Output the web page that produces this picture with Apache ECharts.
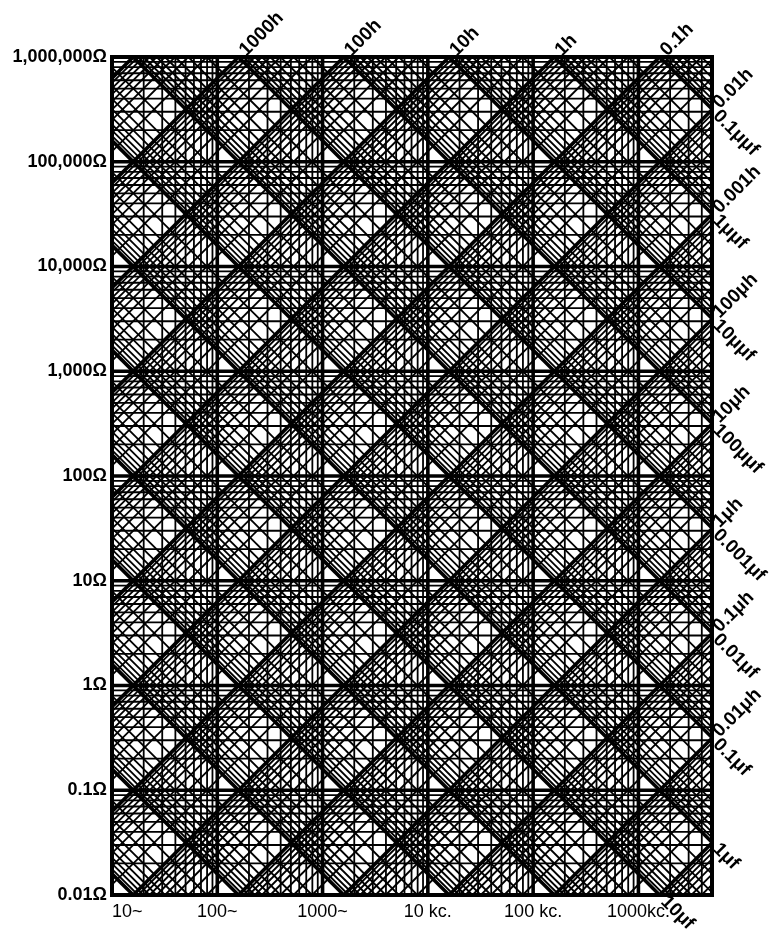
<!DOCTYPE html>
<html>
<head>
<meta charset="utf-8">
<script src="https://cdn.jsdelivr.net/npm/echarts@6/dist/echarts.min.js"></script>
<style>
  html, body { margin: 0; background: #fff; }
  #chart { width: 778px; height: 940px; }
</style>
</head>
<body>
<div id="chart"></div>
<script>
// axis ranges (cycles per second, ohms)
const freqMin = 10, freqMax = 5e6;
const ohmMin = 0.01, ohmMax = 1e6;

// tick labels
const freqTicks = [10, 100, 1000, 1e4, 1e5, 1e6];
const freqLabels = ['10~', '100~', '1000~', '10 kc.', '100 kc.', '1000kc.'];
const ohmTicks = [0.01, 0.1, 1, 10, 100, 1000, 1e4, 1e5, 1e6];
const ohmLabels = ['0.01Ω', '0.1Ω', '1Ω', '10Ω', '100Ω', '1,000Ω', '10,000Ω', '100,000Ω', '1,000,000Ω'];

// subdivisions of each decade
const steps = [1, 2, 3, 4, 5, 6, 7, 8, 9];

// decades of inductance (henry) and capacitance (farad) drawn as diagonals
const henryDecades = [1e-10, 1e-9, 1e-8, 1e-7, 1e-6, 1e-5, 1e-4, 1e-3, 1e-2, 1e-1, 1, 10, 100, 1000, 1e4];
const faradDecades = [1e-14, 1e-13, 1e-12, 1e-11, 1e-10, 1e-9, 1e-8, 1e-7, 1e-6, 1e-5, 1e-4, 1e-3, 1e-2, 1e-1, 1];

// labelled lines
const topHenry = [[1000, '1000h'], [100, '100h'], [10, '10h'], [1, '1h'], [0.1, '0.1h']];
const sideHenry = [[0.01, '0.01h'], [0.001, '0.001h'], [1e-4, '100μh'], [1e-5, '10μh'], [1e-6, '1μh'], [1e-7, '0.1μh'], [1e-8, '0.01μh']];
const sideFarad = [[1e-13, '0.1μμf'], [1e-12, '1μμf'], [1e-11, '10μμf'], [1e-10, '100μμf'], [1e-9, '0.001μf'], [1e-8, '0.01μf'], [1e-7, '0.1μf'], [1e-6, '1μf']];
const bottomFarad = [[1e-5, '10μf']];

const TWO_PI = 2 * Math.PI;

// segment of X = 2πfL inside the box
function henrySeg(L) {
  const f1 = Math.max(freqMin, ohmMin / (TWO_PI * L));
  const f2 = Math.min(freqMax, ohmMax / (TWO_PI * L));
  if (f1 >= f2) return null;
  return [f1, TWO_PI * f1 * L, f2, TWO_PI * f2 * L];
}
// segment of X = 1/(2πfC) inside the box
function faradSeg(C) {
  const f1 = Math.max(freqMin, 1 / (TWO_PI * C * ohmMax));
  const f2 = Math.min(freqMax, 1 / (TWO_PI * C * ohmMin));
  if (f1 >= f2) return null;
  return [f1, 1 / (TWO_PI * f1 * C), f2, 1 / (TWO_PI * f2 * C)];
}

const gridSegs = [];
const diagSegs = [];
for (let d = freqMin; d < freqMax; d *= 10) {
  steps.forEach(s => {
    const f = d * s;
    if (f <= freqMax) gridSegs.push([f, ohmMin, f, ohmMax, s === 1 ? 1 : 0]);
  });
}
for (let d = ohmMin; d < ohmMax; d *= 10) {
  steps.forEach(s => gridSegs.push([freqMin, d * s, freqMax, d * s, s === 1 ? 1 : 0]));
}
henryDecades.forEach(d => steps.forEach(s => {
  const seg = henrySeg(d * s);
  if (seg) diagSegs.push(seg.concat(s === 1 ? 1 : 0));
}));
faradDecades.forEach(d => steps.forEach(s => {
  const seg = faradSeg(d * s);
  if (seg) diagSegs.push(seg.concat(s === 1 ? 1 : 0));
}));

// label anchors: where the line leaves the box, and which way the text runs
const labelItems = [];
topHenry.forEach(([L, t]) => labelItems.push({ f: ohmMax / (TWO_PI * L), x: ohmMax, up: true, text: t }));
sideHenry.forEach(([L, t]) => labelItems.push({ f: freqMax, x: TWO_PI * freqMax * L, up: true, text: t }));
sideFarad.forEach(([C, t]) => labelItems.push({ f: freqMax, x: 1 / (TWO_PI * freqMax * C), up: false, text: t }));
bottomFarad.forEach(([C, t]) => labelItems.push({ f: 1 / (TWO_PI * C * ohmMin), x: ohmMin, up: false, text: t }));

function renderSeg(params, api) {
  const a = api.coord([api.value(0), api.value(1)]);
  const b = api.coord([api.value(2), api.value(3)]);
  const major = api.value(4) === 1;
  return {
    type: 'line',
    shape: { x1: a[0], y1: a[1], x2: b[0], y2: b[1] },
    style: { stroke: '#000', lineWidth: major ? 3.6 : 1.8 },
    silent: true
  };
}

function renderLabel(params, api) {
  const item = labelItems[params.dataIndex];
  const p = api.coord([api.value(0), api.value(1)]);
  const k = 4;
  return {
    type: 'text',
    x: p[0] + k,
    y: item.up ? p[1] - k : p[1] + k,
    rotation: item.up ? Math.PI / 4 : -Math.PI / 4,
    style: {
      text: item.text,
      fill: '#000',
      font: 'bold 19px "Liberation Sans", Arial, sans-serif',
      textAlign: 'left',
      textVerticalAlign: 'middle'
    },
    silent: true
  };
}

function tickText(value, ticks, labels) {
  const i = ticks.findIndex(t => Math.abs(Math.log10(t) - Math.log10(value)) < 1e-6);
  return i < 0 ? '' : labels[i];
}

const chart = echarts.init(document.getElementById('chart'));
chart.setOption({
  animation: false,
  backgroundColor: '#fff',
  grid: {
    left: 112, right: 66, top: 57, bottom: 45,
    show: true, borderColor: '#000', borderWidth: 4, backgroundColor: 'transparent'
  },
  xAxis: {
    type: 'log', logBase: 10, min: freqMin, max: freqMax,
    axisLine: { show: false }, axisTick: { show: false }, splitLine: { show: false },
    axisLabel: {
      margin: 8, color: '#000', fontSize: 18,
      fontFamily: '"Liberation Sans", Arial, sans-serif',
      alignMinLabel: 'left',
      formatter: v => tickText(v, freqTicks, freqLabels)
    }
  },
  yAxis: {
    type: 'log', logBase: 10, min: ohmMin, max: ohmMax,
    axisLine: { show: false }, axisTick: { show: false }, splitLine: { show: false },
    axisLabel: {
      margin: 5, color: '#000', fontSize: 18, fontWeight: 'bold',
      fontFamily: '"Liberation Sans", Arial, sans-serif',
      formatter: v => tickText(v, ohmTicks, ohmLabels)
    }
  },
  series: [
    {
      type: 'custom', name: 'grid', renderItem: renderSeg,
      encode: { x: [0, 2], y: [1, 3] }, data: gridSegs, z: 2
    },
    {
      type: 'custom', name: 'reactance', renderItem: renderSeg,
      encode: { x: [0, 2], y: [1, 3] }, data: diagSegs, z: 3
    },
    {
      type: 'custom', name: 'labels', renderItem: renderLabel, clip: false,
      encode: { x: 0, y: 1 }, data: labelItems.map(o => [o.f, o.x]), z: 4
    }
  ]
});
</script>
</body>
</html>
